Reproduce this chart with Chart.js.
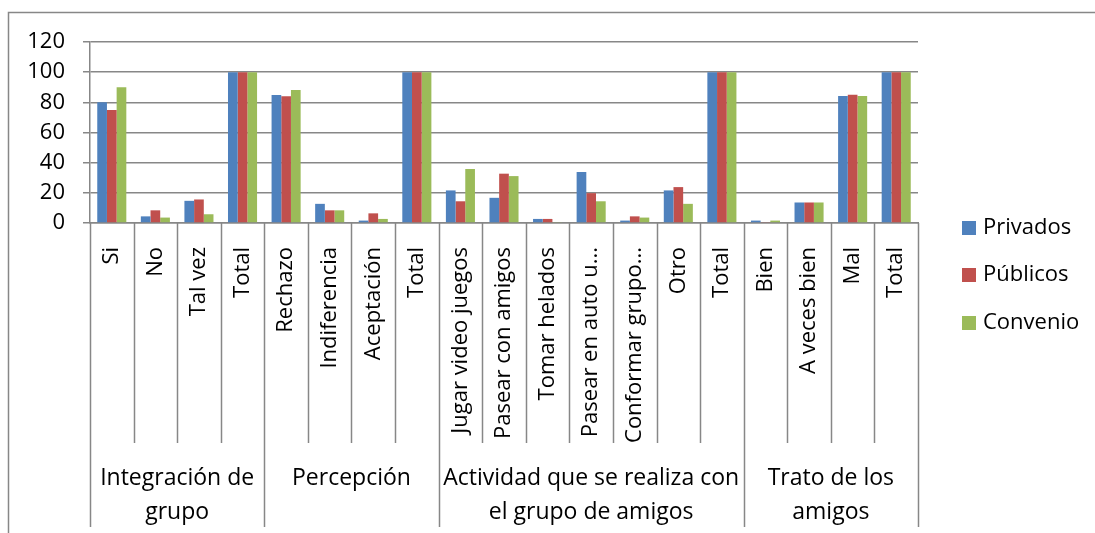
<!DOCTYPE html>
<html>
<head>
<meta charset="utf-8">
<script src="https://cdn.jsdelivr.net/npm/chart.js@4"></script>
<style>
html,body{margin:0;padding:0;background:#fff;}
#wrap{width:1095px;height:533px;position:relative;}
</style>
</head>
<body>
<div id="wrap"><canvas id="c" width="1095" height="533"></canvas></div>
<script>
const categories = ['Si','No','Tal vez','Total','Rechazo','Indiferencia','Aceptación','Total','Jugar video juegos','Pasear con amigos','Tomar helados','Pasear en auto u...','Conformar grupo...','Otro','Total','Bien','A veces bien','Mal','Total'];
const privados = [80,4.4,14.7,100,84.9,12.7,1.6,100,21.6,16.7,2.7,33.8,1.6,21.6,100,1.6,13.6,84.2,100];
const publicos = [75,8.4,15.6,100,84,8.4,6.4,100,14.4,32.7,2.7,19.8,4.4,23.8,100,0.4,13.6,85.1,100];
const convenio = [90,3.6,5.8,100,88.2,8.4,2.7,100,35.8,31.1,0.4,14.4,3.6,12.7,100,1.6,13.6,84.2,100];
const seriesNames = ['Privados','Públicos','Convenio'];
const groupLabels = [['Integración de','grupo'],['Percepción'],['Actividad que se realiza con','el grupo de amigos'],['Trato de los','amigos']];
const groupSizes = [4,4,7,4];
const yTicks = [0,20,40,60,80,100,120];

const FONT = '"Open Sans", sans-serif';
const GRID = '#878787';

const extras = {
  id: 'extras',
  beforeDraw(chart) {
    const ctx = chart.ctx;
    ctx.save();
    ctx.fillStyle = '#fff';
    ctx.fillRect(0, 0, chart.width, chart.height);
    ctx.strokeStyle = GRID;
    ctx.lineWidth = 1.5;
    ctx.strokeRect(8.5, 12.5, 1300, 1000);
    ctx.restore();
  },
  afterDraw(chart) {
    const ctx = chart.ctx;
    const xs = chart.scales.x;
    const n = categories.length;
    const bounds = [];
    for (let i = 0; i <= n; i++) {
      if (i === 0) bounds.push(xs.left);
      else if (i === n) bounds.push(xs.right);
      else bounds.push((xs.getPixelForTick(i - 1) + xs.getPixelForTick(i)) / 2);
    }
    const groupEdges = [0];
    groupSizes.forEach(s => groupEdges.push(groupEdges[groupEdges.length - 1] + s));
    const axisY = xs.top;
    const shortEnd = xs.bottom;
    const longEnd = 527;
    ctx.save();
    ctx.strokeStyle = GRID;
    ctx.lineWidth = 1.5;
    bounds.forEach((bx, i) => {
      const isGroup = groupEdges.includes(i);
      ctx.beginPath();
      ctx.moveTo(Math.round(bx) + 0.5, axisY);
      ctx.lineTo(Math.round(bx) + 0.5, isGroup ? longEnd : shortEnd);
      ctx.stroke();
    });
    ctx.fillStyle = '#000';
    ctx.font = '23px ' + FONT;
    ctx.textAlign = 'center';
    ctx.textBaseline = 'middle';
    groupLabels.forEach((lines, g) => {
      const x0 = bounds[groupEdges[g]], x1 = bounds[groupEdges[g + 1]];
      const cx = (x0 + x1) / 2;
      lines.forEach((t, li) => ctx.fillText(t, cx, 478 + li * 34));
    });
    // legend
    ctx.font = '22px ' + FONT;
    const ds = chart.data.datasets;
    const ly = [228, 275, 323];
    ds.forEach((d, i) => {
      ctx.fillStyle = d.backgroundColor;
      ctx.fillRect(962, ly[i] - 7, 14, 14);
      ctx.fillStyle = '#000';
      ctx.textAlign = 'left';
      ctx.fillText(d.label, 983, ly[i]);
    });
    ctx.restore();
  }
};

new Chart(document.getElementById('c'), {
  type: 'bar',
  data: {
    labels: categories,
    datasets: [
      {label: seriesNames[0], data: privados, backgroundColor: '#4F81BD'},
      {label: seriesNames[1], data: publicos, backgroundColor: '#C0504D'},
      {label: seriesNames[2], data: convenio, backgroundColor: '#9BBB59'}
    ]
  },
  options: {
    responsive: false,
    animation: false,
    devicePixelRatio: 1,
    layout: {padding: {left: 0, top: 42, right: 177, bottom: 90}},
    plugins: {legend: {display: false}, tooltip: {enabled: false}},
    datasets: {bar: {categoryPercentage: 0.667, barPercentage: 1}},
    scales: {
      x: {
        grid: {display: false},
        border: {display: true, color: GRID, width: 1.5},
        ticks: {
          autoSkip: false, maxRotation: 90, minRotation: 90,
          color: '#000', font: {family: FONT, size: 22}, padding: 16
        },
        afterFit(scale) { scale.height = 220; }
      },
      y: {
        min: 0, max: 120,
        afterBuildTicks(scale) { scale.ticks = yTicks.map(v => ({value: v})); },
        grid: {color: GRID, lineWidth: 1.5, tickLength: 7, drawTicks: true},
        border: {display: true, color: GRID, width: 1.5},
        ticks: {color: '#000', font: {family: FONT, size: 22}, padding: 18},
        afterFit(scale) { scale.width = 90; }
      }
    }
  },
  plugins: [extras]
});
</script>
</body>
</html>
